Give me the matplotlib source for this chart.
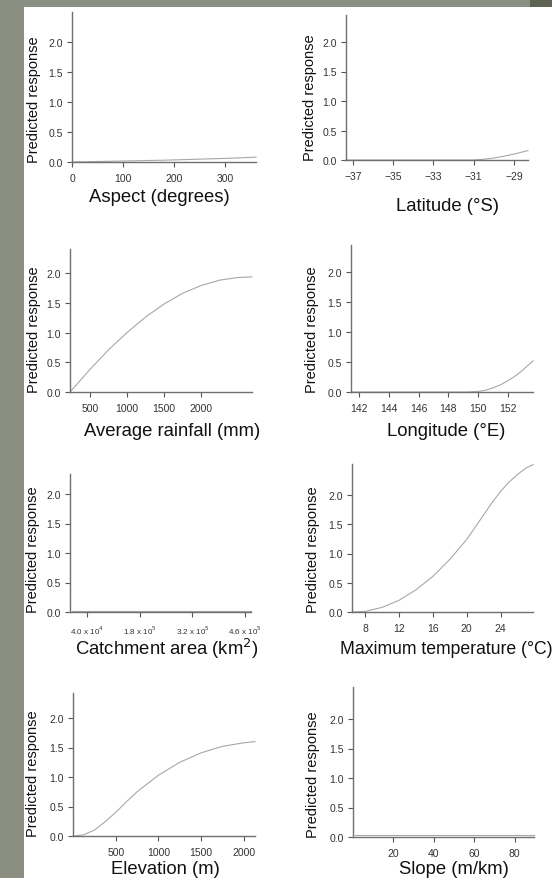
import matplotlib
matplotlib.use('Agg')
import matplotlib.pyplot as plt
from matplotlib.patches import Rectangle

plt.rcParams['font.family'] = ['Liberation Sans', 'DejaVu Sans']

# Partial response curves
aspect_x = [0, 60, 120, 180, 240, 300, 360]
aspect_y = [0.0, 0.01, 0.02, 0.03, 0.045, 0.06, 0.08]

lat_x = [-37.35, -33, -31.05, -30.57, -30.07, -29.57, -29, -28.65, -28.3]
lat_y = [0.0, 0.0, 0.0, 0.01, 0.03, 0.06, 0.10, 0.13, 0.16]

rain_x = [230, 500, 750, 1000, 1250, 1500, 1750, 2000, 2250, 2500, 2685]
rain_y = [0.0, 0.38, 0.71, 1.0, 1.26, 1.48, 1.66, 1.79, 1.88, 1.925, 1.935]

lon_x = [141.47, 148, 149.3, 150, 150.5, 151, 151.5, 152, 152.5, 153, 153.67]
lon_y = [0.0, 0.0, 0.0, 0.01, 0.03, 0.07, 0.12, 0.19, 0.27, 0.37, 0.52]

catch_x = [0, 100000, 200000, 300000, 400000, 476000]
catch_y = [0.02, 0.02, 0.02, 0.02, 0.02, 0.02]

temp_x = [6.43, 8, 10, 12, 14, 16, 18, 20, 21, 22, 23, 24, 25, 26, 27, 27.84]
temp_y = [0.0, 0.01, 0.08, 0.2, 0.38, 0.61, 0.9, 1.24, 1.45, 1.66, 1.87, 2.06, 2.22, 2.35, 2.46, 2.52]

elev_x = [0, 125, 250, 375, 500, 625, 750, 1000, 1250, 1500, 1750, 2000, 2130]
elev_y = [0.0, 0.02, 0.1, 0.24, 0.4, 0.58, 0.75, 1.03, 1.25, 1.41, 1.52, 1.58, 1.6]

slope_x = [1, 20, 40, 60, 80, 89.5]
slope_y = [0.03, 0.03, 0.03, 0.03, 0.03, 0.03]

# x tick positions and labels
aspect_ticks = [0, 100, 200, 300]
lat_ticks = [-37, -35, -33, -31, -29]
rain_ticks = [500, 1000, 1500, 2000]
lon_ticks = [142, 144, 146, 148, 150, 152]
catch_ticks = [40000, 180000, 320000, 460000]
catch_labels = [r'4.0 x 10$^4$', r'1.8 x 10$^5$', r'3.2 x 10$^5$', r'4.6 x 10$^5$']
temp_ticks = [8, 12, 16, 20, 24]
elev_ticks = [500, 1000, 1500, 2000]
slope_ticks = [20, 40, 60, 80]

y_ticks = [0.0, 0.5, 1.0, 1.5, 2.0]

W, H = 552, 879
fig = plt.figure(figsize=(W / 100, H / 100), dpi=100)
fig.patch.set_facecolor('#8b8f82')
fig.patches.append(Rectangle((24 / W, 0), 1 - 24 / W, 1 - 8 / H,
                             transform=fig.transFigure, facecolor='white',
                             edgecolor='none', zorder=-2))
fig.patches.append(Rectangle((530 / W, 1 - 8 / H), 22 / W, 8 / H,
                             transform=fig.transFigure, facecolor='#5f6354',
                             edgecolor='none', zorder=-2))

# (left px, right px, baseline px, px per unit, xlim, ymax, data, ticks, x label, label x, label y, label size, ylabel x)
panels = [
    (72, 256, 163, 60, (0, 360), 2.5, aspect_x, aspect_y, aspect_ticks, None,
     'Aspect (degrees)', 159, 198, 13.3, 34),
    (346, 528, 161, 59, (-37.35, -28.3), 2.46, lat_x, lat_y, lat_ticks, None,
     'Latitude (°S)', 448, 207, 13.3, 310),
    (70, 252, 393, 59.5, (230, 2685), 2.4, rain_x, rain_y, rain_ticks, None,
     'Average rainfall (mm)', 172, 432, 13.3, 34),
    (351, 533, 393, 60, (141.47, 153.67), 2.45, lon_x, lon_y, lon_ticks, None,
     'Longitude (°E)', 446, 432, 13.3, 312),
    (70, 251, 613, 59, (-5000, 476000), 2.34, catch_x, catch_y, catch_ticks, catch_labels,
     'Catchment area (km$^2$)', 167, 649, 13.3, 33),
    (352, 533, 613, 58.5, (6.43, 27.84), 2.53, temp_x, temp_y, temp_ticks, None,
     'Maximum temperature (°C)', 446, 650, 12.7, 313),
    (73, 255, 837, 59, (0, 2130), 2.42, elev_x, elev_y, elev_ticks, None,
     'Elevation (m)', 165, 870, 13.3, 33),
    (353, 534, 838, 59, (0, 89.5), 2.54, slope_x, slope_y, slope_ticks, None,
     'Slope (m/km)', 454, 870, 13.3, 313),
]

for (l, r, y0, ppu, xlim, ymax, xs, ys, xt, xtl, xlabel, lx, ly, lsize, ylx) in panels:
    top = y0 - ymax * ppu
    ax = fig.add_axes([l / W, 1 - y0 / H, (r - l) / W, (y0 - top) / H])
    ax.set_facecolor('none')
    ax.plot(xs, ys, color='#a8a8a8', lw=0.8, clip_on=False)
    ax.set_xlim(*xlim)
    ax.set_ylim(0, ymax)
    ax.set_yticks(y_ticks)
    ax.set_yticklabels(['%.1f' % v for v in y_ticks])
    ax.set_xticks(xt)
    for s in ['top', 'right']:
        ax.spines[s].set_visible(False)
    for s in ['left', 'bottom']:
        ax.spines[s].set_color('#707070')
        ax.spines[s].set_linewidth(1.0)
    ax.tick_params(axis='both', direction='out', length=3.5, width=0.8,
                   color='#555555', labelsize=7.5, labelcolor='#333333', pad=3)
    ax.tick_params(axis='x', pad=4.5)
    if xtl is not None:
        ax.set_xticklabels(xtl, fontsize=5.8)
    fig.text(lx / W, 1 - ly / H, xlabel, ha='center', va='center', fontsize=lsize, color='#111111')
    fig.text(ylx / W, 1 - (y0 - 63) / H, 'Predicted response', rotation=90,
             ha='center', va='center', fontsize=10.5, color='#111111')

fig.savefig('out.png', dpi=100, facecolor=fig.get_facecolor())
